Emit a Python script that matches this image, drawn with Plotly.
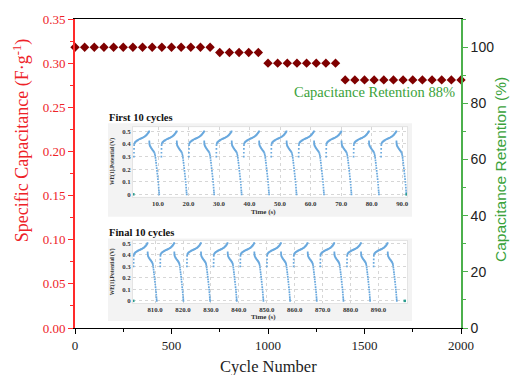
import plotly.graph_objects as go

# ---- main series: specific capacitance sampled every 50 cycles ----
cycle_number = [0, 50, 100, 150, 200, 250, 300, 350, 400, 450, 500, 550, 600, 650, 700,
                750, 800, 850, 900, 950,
                1000, 1050, 1100, 1150, 1200, 1250, 1300, 1350,
                1400, 1450, 1500, 1550, 1600, 1650, 1700, 1750, 1800, 1850, 1900, 1950, 2000]
specific_capacitance = [0.318, 0.318, 0.318, 0.318, 0.318, 0.318, 0.318, 0.318, 0.318, 0.318,
                        0.318, 0.318, 0.318, 0.318, 0.318,
                        0.312, 0.312, 0.312, 0.312, 0.312,
                        0.300, 0.300, 0.300, 0.300, 0.300, 0.300, 0.300, 0.300,
                        0.281, 0.281, 0.281, 0.281, 0.281, 0.281, 0.281, 0.281, 0.281,
                        0.281, 0.281, 0.281, 0.281]
retention = [c / specific_capacitance[0] * 100 for c in specific_capacitance]

# ---- one galvanostatic charge/discharge cycle (time in s, potential in V) ----
charge_time = [0.00, 0.02, 0.04, 0.07, 0.15, 0.30, 0.45, 0.60, 0.80, 1.00, 1.20, 1.40,
               1.60, 1.80, 2.00, 2.20, 2.40, 2.60, 2.80, 3.00, 3.20, 3.40, 3.60, 3.80,
               4.00, 4.15, 4.30, 4.45, 4.60, 4.75, 4.90, 5.00]
charge_potential = [0.300, 0.330, 0.360, 0.390, 0.403, 0.410, 0.415, 0.419, 0.423, 0.426,
                    0.429, 0.432, 0.435, 0.437, 0.440, 0.442, 0.444, 0.446, 0.448, 0.451,
                    0.454, 0.457, 0.460, 0.464, 0.468, 0.472, 0.476, 0.480, 0.485, 0.490,
                    0.496, 0.500]
discharge_time = [5.05, 5.07, 5.10, 5.15, 5.25, 5.40, 5.55, 5.70, 5.85, 6.00, 6.15, 6.30,
                  6.45, 6.60, 6.75, 6.87, 6.97, 7.07, 7.17, 7.27, 7.37, 7.47, 7.57, 7.67,
                  7.77, 7.87, 7.97, 8.05, 8.12, 8.19, 8.25, 8.30]
discharge_potential = [0.420, 0.410, 0.400, 0.392, 0.385, 0.378, 0.372, 0.366, 0.361, 0.356,
                       0.351, 0.346, 0.341, 0.336, 0.328, 0.318, 0.305, 0.289, 0.270, 0.250,
                       0.229, 0.208, 0.186, 0.164, 0.142, 0.120, 0.098, 0.076, 0.054, 0.032,
                       0.015, 0.000]

first_cycle_starts = [2.1, 11.1, 20.1, 29.1, 38.1, 47.1, 56.1, 65.1, 74.1, 83.1]
final_cycle_starts = [802.3, 811.85, 821.4, 830.95, 840.5, 850.05, 859.6, 869.15, 878.7, 888.25]
first_rest_points = ([1.9, 91.5], [0.0, 0.0])
final_rest_points = ([802.2, 899.4], [0.0, 0.0])

first_ticks = [10, 20, 30, 40, 50, 60, 70, 80, 90]
final_ticks = [810, 820, 830, 840, 850, 860, 870, 880, 890]

SERIF = "Liberation Serif"
SANS = "Liberation Sans"
RED_LINE = "#FF2A2A"
RED_TEXT = "#EE2228"
GREEN_LINE = "#4CB04C"
GREEN_TEXT = "#3AA23A"
MAROON = "#7f0000"
DOT_BLUE = "#6aa9de"
TEAL = "#2a9d8f"

# plot box in pixels
L, R, T, B = 75, 461, 17, 328


def px(x):
    return (x - L) / (R - L)


def py(y):
    return (B - y) / (B - T)


def build_cycles(starts):
    xs, ys = [], []
    for s in starts:
        xs += [s + t for t in charge_time] + [s + t for t in discharge_time]
        ys += charge_potential + discharge_potential
    return xs, ys


fig = go.Figure()

fig.add_trace(go.Scatter(
    x=cycle_number, y=specific_capacitance, mode="markers",
    marker=dict(symbol="diamond", size=7.2, color=MAROON, line=dict(width=0)),
    cliponaxis=False, showlegend=False, hoverinfo="x+y"))

fig.add_trace(go.Scatter(
    x=cycle_number, y=retention, yaxis="y2", mode="markers",
    marker=dict(size=1, opacity=0), showlegend=False, hoverinfo="skip"))

for xa, ya, starts, rest in (("x3", "y3", first_cycle_starts, first_rest_points),
                             ("x4", "y4", final_cycle_starts, final_rest_points)):
    cx, cy = build_cycles(starts)
    fig.add_trace(go.Scatter(
        x=cx, y=cy, xaxis=xa, yaxis=ya, mode="markers",
        marker=dict(symbol="square", size=1.7, color=DOT_BLUE, line=dict(width=0)),
        showlegend=False))
    fig.add_trace(go.Scatter(
        x=rest[0], y=rest[1], xaxis=xa, yaxis=ya, mode="markers",
        marker=dict(symbol="square", size=2.5, color=TEAL, line=dict(width=0)),
        showlegend=False, cliponaxis=False))

inset_tick_font = dict(family=SERIF, size=6.8, color="#333333", weight="bold")
inset_grid = dict(showgrid=True, gridcolor="#d6d6d6", griddash="dot", gridwidth=0.8,
                  zeroline=False, showline=True, linecolor="#e4e4e4", linewidth=1,
                  mirror=True, ticks="", tickfont=inset_tick_font)

inset1_x = [px(133), px(407)]
inset1_y = [py(196), py(126)]
inset2_x = [px(133), px(407)]
inset2_y = [py(303), py(240)]

fig.update_layout(
    width=510, height=375,
    margin=dict(l=L, r=510 - R, t=T, b=375 - B),
    paper_bgcolor="white", plot_bgcolor="rgba(0,0,0,0)",
    showlegend=False,
    xaxis=dict(range=[0, 2000], dtick=500, tick0=0, ticks="outside", ticklen=5,
               tickcolor="black", tickwidth=1.2,
               minor=dict(dtick=250, ticks="outside", ticklen=3, tickcolor="black"),
               showline=True, linecolor="black", linewidth=1.3, mirror=True,
               showgrid=False, zeroline=False,
               tickfont=dict(family=SERIF, size=13, color="#222222")),
    yaxis=dict(range=[0, 0.35], dtick=0.05, tick0=0, tickformat=".2f",
               ticks="outside", ticklen=5, tickcolor=RED_LINE, tickwidth=1.2,
               minor=dict(dtick=0.025, ticks="outside", ticklen=3, tickcolor=RED_LINE),
               showline=True, linecolor=RED_LINE, linewidth=2,
               showgrid=False, zeroline=False,
               tickfont=dict(family=SERIF, size=13, color=RED_TEXT)),
    yaxis2=dict(range=[0, 110], dtick=20, tick0=0, overlaying="y", side="right",
                anchor="x", ticks="outside", ticklen=5, tickcolor=GREEN_LINE, tickwidth=1.2,
                minor=dict(dtick=10, ticks="outside", ticklen=3, tickcolor=GREEN_LINE),
                showline=True, linecolor=GREEN_LINE, linewidth=1.6,
                showgrid=False, zeroline=False,
                tickfont=dict(family=SANS, size=14, color="#222222")),
    xaxis3=dict(domain=inset1_x, anchor="y3", range=[1.8, 91.6],
                tickvals=first_ticks, tickformat=".1f", **inset_grid),
    yaxis3=dict(domain=inset1_y, anchor="x3", range=[-0.02, 0.532], dtick=0.1, tick0=0,
                **inset_grid),
    xaxis4=dict(domain=inset2_x, anchor="y4", range=[802.1, 900.2],
                tickvals=final_ticks, tickformat=".1f", **inset_grid),
    yaxis4=dict(domain=inset2_y, anchor="x4", range=[-0.02, 0.523], dtick=0.1, tick0=0,
                **inset_grid),
)

# inset panels: light grey frame with white plotting area
shapes = []
for box, inner_x, inner_y in (((108, 412, 122, 216), inset1_x, inset1_y),
                              ((108, 412, 238, 321), inset2_x, inset2_y)):
    shapes.append(dict(type="rect", xref="paper", yref="paper", layer="below",
                       x0=px(box[0]), x1=px(box[1]), y0=py(box[3]), y1=py(box[2]),
                       fillcolor="#f3f3f3", line=dict(width=0)))
    shapes.append(dict(type="rect", xref="paper", yref="paper", layer="below",
                       x0=inner_x[0], x1=inner_x[1], y0=inner_y[0], y1=inner_y[1],
                       fillcolor="white", line=dict(width=0)))
fig.update_layout(shapes=shapes)

final_retention = int(retention[-1])
annotations = [
    dict(text="Specific Capacitance (F·g<sup>-1</sup>)", x=px(22), y=py(140),
         textangle=-90, font=dict(family=SERIF, size=18, color=RED_TEXT)),
    dict(text="Capacitance Retention (%)", x=px(500), y=py(168),
         textangle=-90, font=dict(family=SANS, size=15.5, color=GREEN_TEXT)),
    dict(text="Cycle Number", x=px(268), y=py(367),
         font=dict(family=SERIF, size=16.5, color="#222222")),
    dict(text=f"Capacitance Retention {final_retention}%", x=px(457), y=py(90),
         xanchor="right", font=dict(family=SERIF, size=14.5, color=GREEN_TEXT)),
    dict(text="<b>First 10 cycles</b>", x=px(107), y=py(116), xanchor="left",
         font=dict(family=SERIF, size=10.5, color="#111111")),
    dict(text="<b>Final 10 cycles</b>", x=px(107), y=py(232), xanchor="left",
         font=dict(family=SERIF, size=10.5, color="#111111")),
    dict(text="<b>WE(1).Potential (V)</b>", x=px(112), y=py(161), textangle=-90,
         font=dict(family=SERIF, size=5.5, color="#333333")),
    dict(text="<b>WE(1).Potential (V)</b>", x=px(112), y=py(272), textangle=-90,
         font=dict(family=SERIF, size=5.5, color="#333333")),
    dict(text="<b>Time (s)</b>", x=px(263), y=py(211),
         font=dict(family=SERIF, size=7, color="#333333")),
    dict(text="<b>Time (s)</b>", x=px(263), y=py(317),
         font=dict(family=SERIF, size=7, color="#333333")),
]
for a in annotations:
    a.setdefault("xref", "paper")
    a.setdefault("yref", "paper")
    a.setdefault("xanchor", "center")
    a.setdefault("yanchor", "middle")
    a["showarrow"] = False
fig.update_layout(annotations=annotations)

fig.write_html("out.html")
